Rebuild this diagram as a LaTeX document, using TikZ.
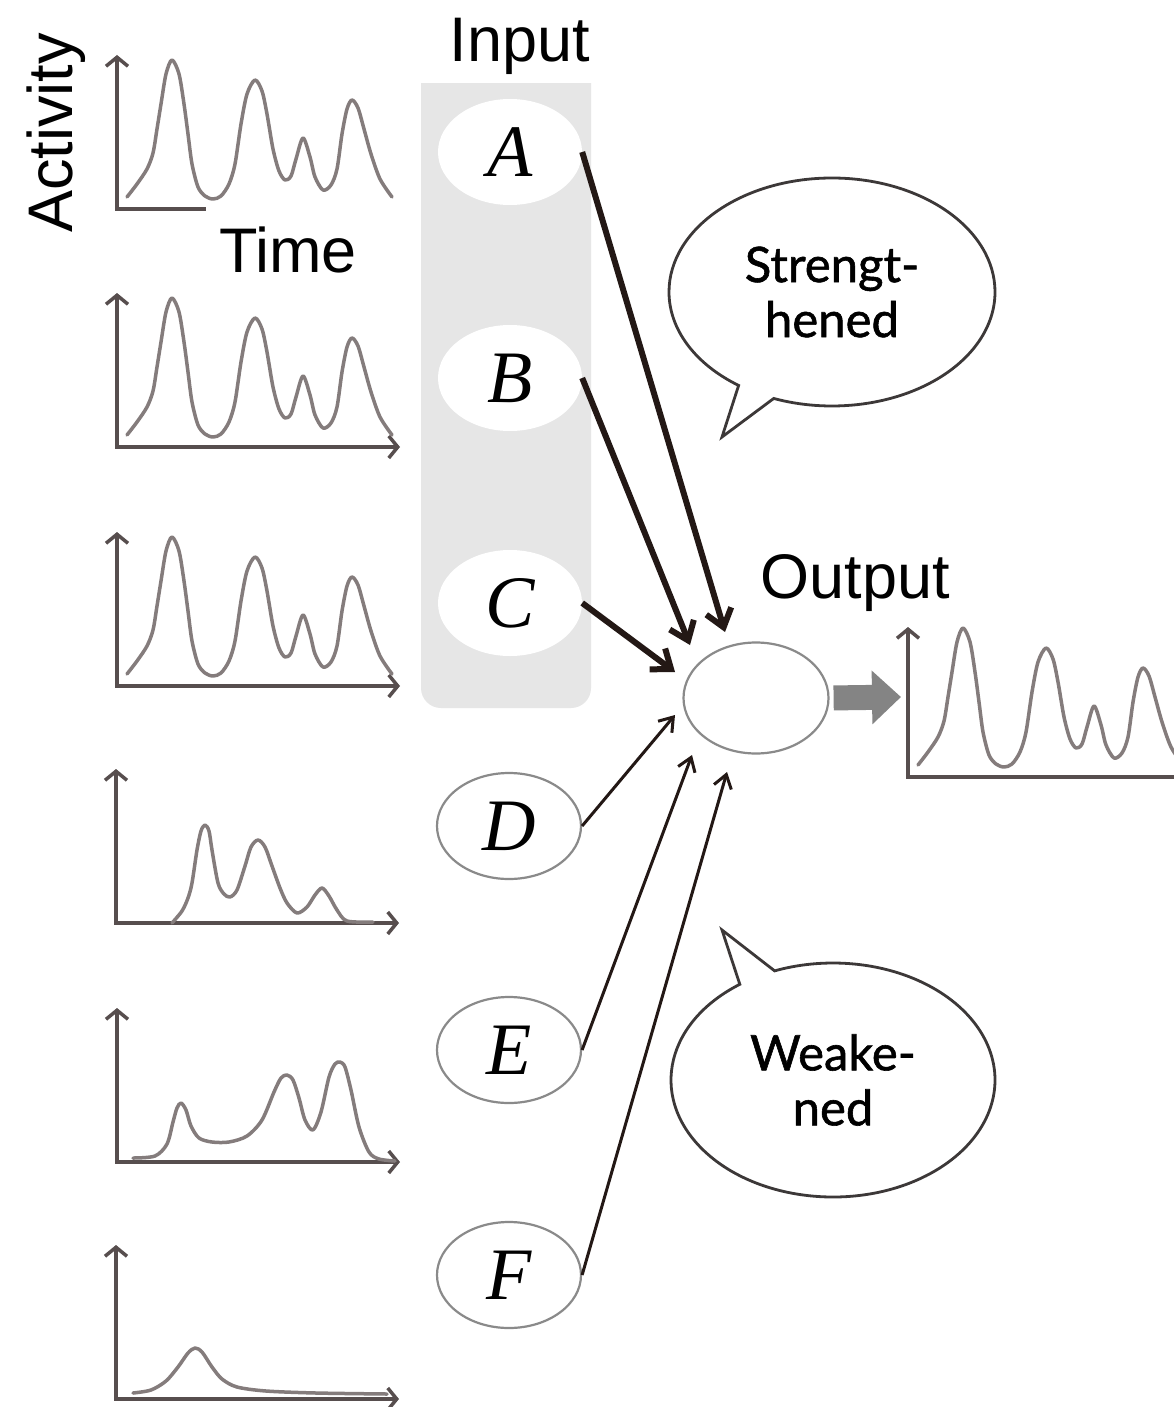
\documentclass[tikz,border=0pt]{standalone}
\usepackage{fontspec}
\setmainfont{Liberation Sans}
\newfontfamily\serifit{Liberation Serif}
\newfontfamily\bubblefont[FakeBold=1.2]{Lato}
\usetikzlibrary{arrows.meta,shapes.geometric,shapes.callouts}
\definecolor{panelgray}{HTML}{E6E6E6}
\definecolor{axiscol}{HTML}{574E4E}
\definecolor{curvecol}{HTML}{847C7C}
\definecolor{arrowcol}{HTML}{231815}
\definecolor{ringcol}{HTML}{8A8A8A}
\definecolor{bubblecol}{HTML}{3C3838}
\definecolor{fatcol}{HTML}{848484}
\begin{document}
\begin{tikzpicture}[x=1pt,y=-1pt,
  axisline/.style={draw=axiscol, line width=3.5pt, line join=miter},
  trace/.style={draw=curvecol, line width=3.5pt, line join=round, line cap=round},
  inpanel/.style={ellipse, fill=white, minimum width=144pt, minimum height=106pt, inner sep=0pt},
  inring/.style={inpanel, draw=ringcol, line width=2.2pt},
  letter/.style={font=\fontsize{74}{74}\serifit\itshape},
  thickarrow/.style={draw=arrowcol, line width=6pt, -{Straight Barb[length=17pt,width=26pt]}},
  thinarrow/.style={draw=arrowcol, line width=3pt, -{Straight Barb[length=13pt,width=18pt]}},
  bigtext/.style={font=\fontsize{63}{63}\selectfont, inner sep=0pt},
  bubble/.style={ellipse callout, draw=bubblecol, line width=2.8pt, fill=white, align=center,
     font=\fontsize{49}{55}\bubblefont, inner sep=0pt, callout pointer arc=14},
  axes/.pic={\draw[axisline, {Straight Barb[length=9pt,width=22pt]}-{Straight Barb[length=9pt,width=22pt]}] (0,-154) -- (0,0) -- (283,0);},
  curveA/.pic={\draw[trace] plot[smooth, tension=0.5] coordinates {(10,-12) (20,-25) (30,-40) (36,-56) (40,-80) (44,-105) (49,-135) (55,-149) (62,-135) (67,-105) (71,-75) (75,-45) (81,-22) (88,-13) (96,-10) (104,-13) (112,-25) (118,-45) (124,-85) (130,-115) (138,-129) (145,-118) (150,-95) (156,-60) (162,-38) (168,-29) (174,-33) (179,-50) (186,-71) (193,-52) (198,-32) (206,-19) (214,-24) (220,-40) (225,-75) (230,-100) (235,-109) (241,-101) (247,-80) (254,-55) (263,-30) (275,-12)};},
  curveD/.pic={\draw[trace] plot[smooth, tension=0.5] coordinates {(56,0) (66,-12) (72,-25) (76,-40) (81,-73) (85,-92) (89,-98) (93,-92) (96,-73) (102,-40) (108,-29) (114,-26) (121,-33) (129,-57) (135,-76) (142,-83) (149,-76) (156,-57) (164,-35) (171,-20) (181,-10) (191,-16) (199,-28) (206,-35) (213,-27) (221,-13) (231,-2) (257,-1)};},
  curveE/.pic={\draw[trace] plot[smooth, tension=0.5] coordinates {(16,-4) (38,-6) (50,-18) (56,-40) (60,-54) (64,-59) (69,-52) (74,-36) (82,-24) (95,-20) (112,-20) (130,-26) (145,-42) (157,-70) (164,-84) (170,-87) (176,-82) (182,-64) (188,-42) (196,-32) (204,-50) (212,-85) (218,-98) (223,-100) (228,-95) (234,-72) (242,-35) (252,-10) (262,-3) (278,-1)};},
  curveF/.pic={\draw[trace] plot[smooth, tension=0.5] coordinates {(17,-6) (35,-9) (50,-18) (62,-32) (72,-46) (79,-51) (86,-47) (96,-32) (106,-20) (121,-12) (150,-8) (200,-6) (271,-5)};},
]
\useasboundingbox (0,0) rectangle (1174,1407);
\fill[white] (0,0) rectangle (1174,1407);

% grey panel behind A, B, C
\begin{scope}
  \clip (0,84) rectangle (1174,1407);
  \fill[panelgray, rounded corners=20pt] (421,50) rectangle (591,708);
\end{scope}

% plots
\draw[axisline, {Straight Barb[length=9pt,width=22pt]}-] (117,55) -- (117,209) -- (206,209);
\pic at (117,209) {curveA};
\pic at (117,447) {axes};
\pic at (117,447) {curveA};
\pic at (117,686) {axes};
\pic at (117,686) {curveA};
\pic at (116,923) {axes};
\pic at (116,923) {curveD};
\pic at (117,1162) {axes};
\pic at (117,1162) {curveE};
\pic at (116,1399) {axes};
\pic at (116,1399) {curveF};
% output plot
\draw[axisline, {Straight Barb[length=9pt,width=22pt]}-] (908,627) -- (908,777) -- (1180,777);
\pic at (908,777) {curveA};

% labels
\node[bigtext, anchor=base] (input) at (520,62) {Input};
\node[bigtext, anchor=base] (output) at (855,598) {Output};
\node[bigtext, anchor=base] (time) at (288,272) {Time};
\node[bigtext, anchor=base, rotate=90] (activity) at (72,133) {Activity};

% input neurons
\node[inpanel, letter] (A) at (510,152) {A};
\node[inpanel, letter] (B) at (510,378) {B};
\node[inpanel, letter] (C) at (510,603) {C};
\node[inring, letter] (D) at (509,826) {D};
\node[inring, letter] (E) at (509,1050) {E};
\node[inring, letter] (F) at (509,1275) {F};

% output neuron
\node[ellipse, draw=ringcol, line width=2.2pt, minimum width=145pt, minimum height=111pt] (out) at (756,698) {};

% arrow tips
\coordinate (tA) at (725,632);
\coordinate (tB) at (690,645);
\coordinate (tC) at (675,672);
\coordinate (tD) at (675,715);
\coordinate (tE) at (692,755);
\coordinate (tF) at (727,772);
\draw[thickarrow] (A.east) -- (tA);
\draw[thickarrow] (B.east) -- (tB);
\draw[thickarrow] (C.east) -- (tC);
\draw[thinarrow] (D.east) -- (tD);
\draw[thinarrow] (E.east) -- (tE);
\draw[thinarrow] (F.east) -- (tF);

% fat grey arrow
\coordinate (gT) at (901,697);
\draw[fatcol, line width=25pt, shorten <=4pt, -{Triangle[length=29pt,width=52pt]}] (out.east) -- (gT);

% speech bubbles
\coordinate (tipS) at (722,437);
\coordinate (tipW) at (722,930);
\node[bubble, minimum width=326pt, minimum height=228pt, callout absolute pointer={(tipS)}] (bubS) at (832,292) {Strengt-\\hened};
\node[bubble, minimum width=324pt, minimum height=234pt, callout absolute pointer={(tipW)}] (bubW) at (833,1080) {Weake-\\ned};
\end{tikzpicture}
\end{document}
